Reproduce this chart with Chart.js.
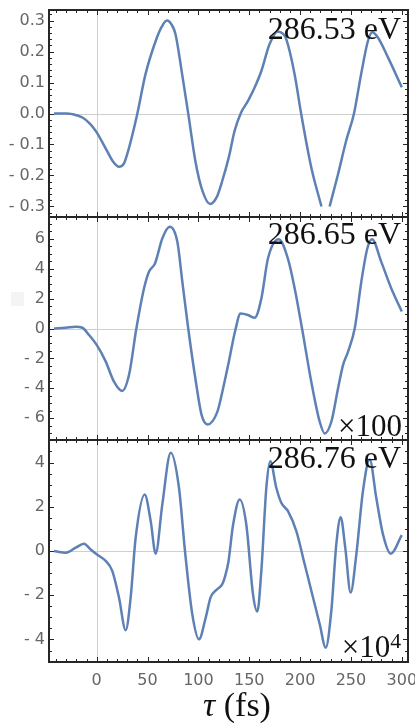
<!DOCTYPE html>
<html>
<head>
<meta charset="utf-8">
<script src="https://cdn.jsdelivr.net/npm/chart.js@4.4.0/dist/chart.umd.min.js"></script>
<style>
html, body { margin: 0; padding: 0; background: #fff; }
#wrap { position: relative; width: 415px; height: 725px; overflow: hidden; }
canvas { position: absolute; left: 0; }
.lbl { position: absolute; font-family: 'Liberation Serif', serif; color: #111; line-height: 1; white-space: nowrap; }
</style>
</head>
<body>
<div id="wrap">
  <canvas id="c1" width="415" height="220" style="top:0px"></canvas>
  <canvas id="c2" width="415" height="235" style="top:210px"></canvas>
  <canvas id="c3" width="415" height="290" style="top:435px"></canvas>
  <div style="position:absolute;left:11px;top:292px;width:13px;height:14px;background:#f4f4f4"></div>
  <div class="lbl" style="right:14px;top:12px;font-size:32px">286.53 eV</div>
  <div class="lbl" style="right:14px;top:217px;font-size:32px">286.65 eV</div>
  <div class="lbl" style="right:13px;top:410px;font-size:31px">×100</div>
  <div class="lbl" style="right:14px;top:441px;font-size:32px">286.76 eV</div>
  <div class="lbl" style="right:14px;top:631px;font-size:31px">×10<span style="position:relative;top:-0.42em;font-size:0.7em">4</span></div>
  <div class="lbl" style="left:137px;width:200px;text-align:center;top:688px;font-size:34px"><i>τ</i>&nbsp;(fs)</div>
</div>
<script>
// delay axis (fs), shared by all panels
const tauRange = [-46.9, 306.1];
const tauTicks = [0, 50, 100, 150, 200, 250, 300];

// 286.53 eV
const tau1 = [-42, -30, -24, -14, -6, 0, 10, 16, 22, 27, 30, 35, 40, 48, 58, 64, 69, 74, 77.5, 84, 90, 97, 104, 111.5, 118, 123.5, 130, 135.6, 142, 148.8, 155.3, 162, 170, 178, 183, 186.4, 194.6, 201, 211, 221, 225, 229, 237.3, 245.3, 253, 260, 266.7, 271, 276.5, 286.4, 300];
const signal1 = [0, 0, -0.002, -0.013, -0.035, -0.061, -0.12, -0.155, -0.172, -0.16, -0.131, -0.07, 0, 0.127, 0.234, 0.28, 0.30, 0.285, 0.256, 0.127, 0, -0.153, -0.25, -0.292, -0.27, -0.217, -0.14, -0.056, 0.003, 0.041, 0.084, 0.138, 0.224, 0.265, 0.258, 0.24, 0.127, 0, -0.174, -0.30, null, -0.30, -0.196, -0.088, 0, 0.127, 0.234, 0.262, 0.245, 0.181, 0.085];

// 286.65 eV (x100)
const tau2 = [-42, -30.5, -20.6, -14, -7.6, 0, 8.8, 17, 25, 31.8, 39, 46.5, 51.4, 57.3, 64.5, 71.8, 79.3, 84.2, 90, 97.5, 103.2, 109, 118.6, 124, 130, 136, 141.5, 148.8, 155.4, 161.9, 168.4, 179, 188, 194.7, 201.9, 211, 219.3, 224.2, 230.7, 237.3, 242.2, 247.1, 253.7, 260.2, 266.1, 270.7, 279.8, 289.7, 300];
const signal2 = [0, 0.05, 0.12, 0.05, -0.43, -1.1, -2.2, -3.56, -4.18, -3.1, 0, 2.68, 3.8, 4.35, 6.02, 6.8, 5.8, 3.13, 0, -3.56, -5.8, -6.42, -5.58, -4.1, -2.2, -0.2, 1.0, 0.9, 0.72, 2.0, 4.68, 5.97, 4.68, 2.68, 0, -3.56, -6.24, -7.02, -6.24, -4.01, -2.45, -1.56, 0, 3.13, 5.35, 5.97, 4.46, 2.68, 1.14];

// 286.76 eV (x10^4)
const tau3 = [-42, -30.5, -20.6, -12.5, -5.9, 0, 8.8, 15.3, 21.9, 28.5, 33.4, 38.3, 47.2, 53.1, 58, 64.5, 72.8, 80.9, 86.8, 94, 100.6, 107.2, 112, 118, 123.5, 126.5, 129.5, 134, 140.6, 147.1, 153.7, 157.9, 161.9, 166.8, 170.7, 176.6, 181.5, 188.1, 196.3, 204.5, 212.7, 219.3, 225.2, 230.7, 235.6, 239.9, 244.4, 249.7, 255.3, 261.8, 268.4, 274.9, 281.5, 289.1, 300];
const signal3 = [0, -0.08, 0.15, 0.33, 0.07, -0.15, -0.45, -0.9, -2.1, -3.58, -2.1, 0.6, 2.56, 1.35, -0.12, 2.1, 4.44, 2.86, 0, -2.86, -3.99, -3.01, -2.1, -1.75, -1.5, -1.1, -0.5, 1.15, 2.33, 1.2, -1.96, -2.74, -0.9, 2.86, 4.06, 2.86, 2.18, 1.8, 0.9, -0.6, -2.1, -3.31, -4.37, -2.71, 0.3, 1.53, 0.15, -1.88, -0.15, 2.71, 4.14, 2.41, 0.75, -0.12, 0.72];

Chart.defaults.font.family = "'DejaVu Sans', sans-serif";
Chart.defaults.font.size = 16;
Chart.defaults.color = '#666';

// frame with inward ticks on all four sides, plus light zero axes
const framePlugin = {
    id: 'frame',
    beforeDatasetsDraw(chart, args, opts) {
        const { ctx, chartArea: a, scales: { x, y } } = chart;
        ctx.save();
        ctx.strokeStyle = '#cfcfcf';
        ctx.lineWidth = 1;
        const px = Math.round(x.getPixelForValue(0)) + 0.5;
        const py = Math.round(y.getPixelForValue(0)) + 0.5;
        ctx.beginPath();
        ctx.moveTo(px, a.top); ctx.lineTo(px, a.bottom);
        ctx.moveTo(a.left, py); ctx.lineTo(a.right, py);
        ctx.stroke();
        ctx.restore();
    },
    afterDatasetsDraw(chart, args, opts) {
        const { ctx, chartArea: a, scales: { x, y } } = chart;
        ctx.save();
        ctx.strokeStyle = '#262626';
        ctx.lineWidth = 1;
        ctx.beginPath();
        for (let k = Math.ceil(x.min / opts.xMinor); k * opts.xMinor <= x.max; k++) {
            const len = k % opts.xEvery === 0 ? 5 : 3;
            const p = Math.round(x.getPixelForValue(k * opts.xMinor)) + 0.5;
            ctx.moveTo(p, a.top); ctx.lineTo(p, a.top + len);
            ctx.moveTo(p, a.bottom); ctx.lineTo(p, a.bottom - len);
        }
        for (let k = Math.ceil(y.min / opts.yMinor - 1e-6); k * opts.yMinor <= y.max + 1e-9; k++) {
            const len = k % opts.yEvery === 0 ? 5 : 3;
            const p = Math.round(y.getPixelForValue(k * opts.yMinor)) + 0.5;
            ctx.moveTo(a.left, p); ctx.lineTo(a.left + len, p);
            ctx.moveTo(a.right, p); ctx.lineTo(a.right - len, p);
        }
        ctx.stroke();
        ctx.lineWidth = 2;
        ctx.strokeRect(a.left, a.top, a.right - a.left, a.bottom - a.top);
        ctx.restore();
    }
};

function fmt(digits) {
    return function(v) {
        if (Math.abs(v) < 1e-9) return (0).toFixed(digits);
        return v < 0 ? '- ' + Math.abs(v).toFixed(digits) : v.toFixed(digits);
    };
}

function makePanel(id, tau, vals, yLim, yStep, yMinor, digits, padding, showX) {
    const points = tau.map((t, i) => ({ x: t, y: vals[i] }));
    return new Chart(document.getElementById(id), {
        type: 'line',
        data: {
            datasets: [{
                data: points,
                borderColor: '#5e81b5',
                borderWidth: 2.5,
                borderJoinStyle: 'round',
                pointRadius: 0,
                fill: false,
                spanGaps: false,
                cubicInterpolationMode: 'monotone'
            }]
        },
        options: {
            responsive: false,
            animation: false,
            devicePixelRatio: 1,
            layout: { padding: padding },
            plugins: {
                legend: { display: false },
                tooltip: { enabled: false },
                frame: { xMinor: 10, xEvery: 5, yMinor: yMinor, yEvery: Math.round(yStep / yMinor) }
            },
            scales: {
                x: {
                    type: 'linear',
                    display: showX,
                    min: tauRange[0],
                    max: tauRange[1],
                    grid: { display: false, drawTicks: false },
                    border: { display: false },
                    ticks: {
                        stepSize: 50,
                        includeBounds: false,
                        maxRotation: 0,
                        autoSkip: false,
                        padding: 9,
                        callback: v => tauTicks.includes(v) ? String(v) : ''
                    },
                    afterFit: s => {
                        s.height = showX ? 63 : 0;
                        s.paddingLeft = 0;
                        s.paddingRight = 0;
                    }
                },
                y: {
                    min: -yLim,
                    max: yLim,
                    grid: { display: false, drawTicks: false },
                    border: { display: false },
                    ticks: {
                        stepSize: yStep,
                        includeBounds: false,
                        autoSkip: false,
                        padding: 4,
                        callback: fmt(digits)
                    },
                    afterFit: s => { s.width = 49; s.paddingTop = 0; s.paddingBottom = 0; }
                }
            }
        },
        plugins: [framePlugin]
    });
}

makePanel('c1', tau1, signal1, 0.334, 0.1, 0.02, 1, { top: 10, bottom: 3, left: 0, right: 7 }, false);
makePanel('c2', tau2, signal2, 7.46, 2, 0.5, 0, { top: 7, bottom: 5, left: 0, right: 7 }, false);
makePanel('c3', tau3, signal3, 5.02, 2, 0.5, 0, { top: 5, bottom: 0, left: 0, right: 7 }, true);
</script>
</body>
</html>
